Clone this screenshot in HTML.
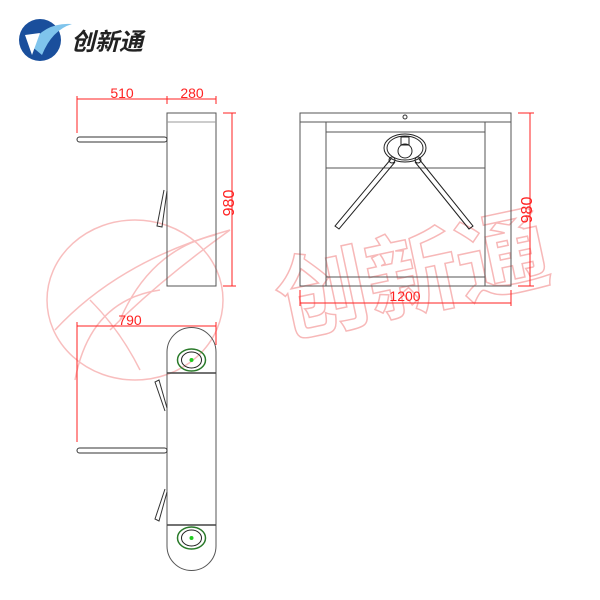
<!DOCTYPE html>
<html><head><meta charset="utf-8"><style>
html,body{margin:0;padding:0;background:#fff;width:600px;height:600px;overflow:hidden}
svg{display:block}
</style></head><body>
<svg width="600" height="600" viewBox="0 0 600 600" xmlns="http://www.w3.org/2000/svg">
<!-- watermark -->
<g fill="none" stroke="#f8b8b8" stroke-width="1.5" opacity="0.9">
<ellipse cx="135" cy="300" rx="88" ry="80"/>
<path d="M55 330 Q120 260 230 230 Q160 280 110 330"/>
<path d="M90 300 Q120 330 140 370 M120 320 Q150 250 215 235"/>
<path d="M75 380 Q90 300 160 290"/>
</g>
<text x="270" y="308" font-family="Liberation Sans, Noto Sans CJK SC, sans-serif" font-size="92" font-weight="bold" fill="none" stroke="#f7b8b8" stroke-width="1.5" transform="rotate(-12 410 255)">创新通</text>

<!-- logo -->
<circle cx="40" cy="40" r="21" fill="#1a4f9c"/>
<path d="M30 45 Q45 22 72 24 Q52 30 42 55 Z" fill="#7fc4ec"/>
<path d="M25 35 L40 33 L32 55 Z" fill="#fff"/>
<text x="71" y="50" font-family="Liberation Sans, Noto Sans CJK SC, sans-serif" font-size="24" font-weight="bold" font-style="italic" fill="#222">创新通</text>

<g stroke="#555" stroke-width="1" fill="none">
<!-- side view -->
<rect x="167" y="113" width="49" height="173"/>
<line x1="167" y1="122" x2="216" y2="122" stroke="#999"/>
<rect x="77" y="137" width="90" height="5" rx="2.5" stroke="#333"/>
<path d="M167 191 L162 227 L157 226 L164 190" stroke="#333"/>
<!-- front view -->
<rect x="300" y="113" width="211" height="173"/>
<line x1="300" y1="122" x2="511" y2="122"/>
<line x1="326" y1="122" x2="326" y2="286"/>
<line x1="485" y1="122" x2="485" y2="286"/>
<line x1="326" y1="132" x2="485" y2="132"/>
<line x1="326" y1="168" x2="485" y2="168"/>
<line x1="326" y1="277" x2="485" y2="277"/>
<circle cx="405" cy="117" r="2" stroke="#333"/>
<ellipse cx="405" cy="148" rx="21" ry="14" stroke="#222"/>
<ellipse cx="405" cy="148" rx="18" ry="12" stroke="#222"/>
<circle cx="405" cy="151" r="7" stroke="#222"/>
<rect x="401" y="137" width="8" height="8" stroke="#222"/>
<path d="M391 159 L335 226 L339 229 L395 162 M419 159 L473 226 L469 229 L415 162" stroke="#222"/>
<circle cx="392" cy="160" r="3" stroke="#222"/><circle cx="418" cy="160" r="3" stroke="#222"/>
<!-- top view -->
<path d="M167 373 L167 352 A24.5 24.5 0 0 1 216 352 L216 546 A24.5 24.5 0 0 1 167 546 Z"/>
<line x1="167" y1="373" x2="216" y2="373" stroke="#444" stroke-width="1.5"/>
<line x1="167" y1="525" x2="216" y2="525" stroke="#444" stroke-width="1.5"/>
<rect x="77" y="448" width="90" height="5" rx="2.5" stroke="#333"/>
<path d="M167 408 L159 380 L155 382 L165 411 M167 492 L159 521 L155 519 L165 489" stroke="#333"/>
</g>
<g fill="none">
<ellipse cx="191.5" cy="360" rx="14" ry="11" stroke="#2a7a2a" stroke-width="1.5"/>
<ellipse cx="191.5" cy="360" rx="10" ry="8" stroke="#222"/>
<circle cx="191.5" cy="360" r="2" fill="#2c2"/>
<ellipse cx="191.5" cy="538" rx="14" ry="11" stroke="#2a7a2a" stroke-width="1.5"/>
<ellipse cx="191.5" cy="538" rx="10" ry="8" stroke="#222"/>
<circle cx="191.5" cy="538" r="2" fill="#2c2"/>
</g>

<!-- dimensions -->
<g stroke="#f22" stroke-width="1" fill="none">
<line x1="77" y1="99" x2="216" y2="99"/>
<line x1="77" y1="96" x2="77" y2="133"/>
<line x1="167" y1="96" x2="167" y2="104"/>
<line x1="216" y1="96" x2="216" y2="104"/>
<line x1="232" y1="113" x2="232" y2="286"/>
<line x1="223" y1="113" x2="236" y2="113"/>
<line x1="223" y1="286" x2="236" y2="286"/>
<line x1="530" y1="113" x2="530" y2="286"/>
<line x1="518" y1="113" x2="534" y2="113"/>
<line x1="518" y1="286" x2="534" y2="286"/>
<line x1="300" y1="303" x2="511" y2="303"/>
<line x1="300" y1="290" x2="300" y2="306"/>
<line x1="511" y1="290" x2="511" y2="306"/>
<line x1="77" y1="326" x2="216" y2="326"/>
<line x1="77" y1="322" x2="77" y2="442"/>
<line x1="216" y1="322" x2="216" y2="345"/>
</g>
<g font-family="Liberation Sans, sans-serif" font-size="14" fill="#f22" text-anchor="middle">
<text x="122" y="98">510</text>
<text x="192" y="98">280</text>
<text x="405" y="301">1200</text>
<text x="130" y="325">790</text>
<text transform="translate(234 203) rotate(-90)" font-size="16">980</text>
<text transform="translate(532 210) rotate(-90)" font-size="16">980</text>
</g>
</svg>
</body></html>
